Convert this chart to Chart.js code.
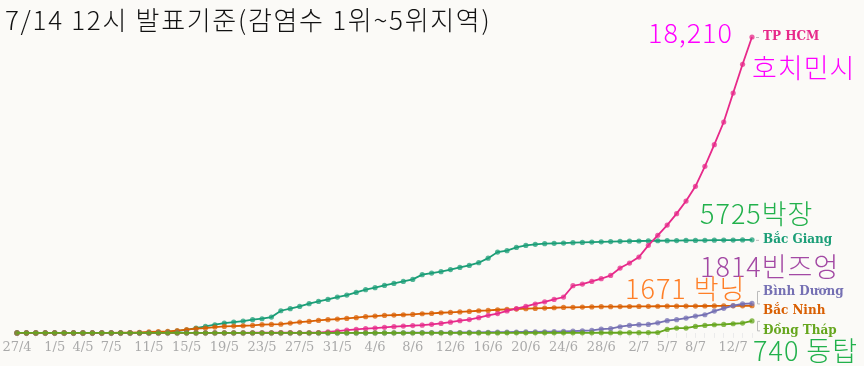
<!DOCTYPE html>
<html>
<head>
<meta charset="utf-8">
<script src="https://cdn.jsdelivr.net/npm/chart.js@4.4.1/dist/chart.umd.min.js"></script>
<style>
  html, body { margin: 0; padding: 0; background: #fbfaf7; }
</style>
</head>
<body>
<canvas id="chart" width="864" height="366"></canvas>
<script>
// daily dates, 27/4 .. 14/7
const dates = [
  '27/4','28/4','29/4','30/4',
  '1/5','2/5','3/5','4/5','5/5','6/5','7/5','8/5','9/5','10/5','11/5','12/5','13/5','14/5','15/5','16/5',
  '17/5','18/5','19/5','20/5','21/5','22/5','23/5','24/5','25/5','26/5','27/5','28/5','29/5','30/5','31/5',
  '1/6','2/6','3/6','4/6','5/6','6/6','7/6','8/6','9/6','10/6','11/6','12/6','13/6','14/6','15/6','16/6',
  '17/6','18/6','19/6','20/6','21/6','22/6','23/6','24/6','25/6','26/6','27/6','28/6','29/6','30/6',
  '1/7','2/7','3/7','4/7','5/7','6/7','7/7','8/7','9/7','10/7','11/7','12/7','13/7','14/7'
];

// dates that get a visible tick label
const shownTicks = ['27/4','1/5','4/5','7/5','11/5','15/5','19/5','23/5','27/5','31/5',
  '4/6','8/6','12/6','16/6','20/6','24/6','28/6','2/7','5/7','8/7','12/7'];

// cumulative cases
const tpHcm = [
  0,0,0,0,0,0,0,0,0,0,0,0,0,0,0,
  1,2,2,3,3,4,5,5,6,7,8,9,10,12,14,
  5,10,20,60,110,170,215,260,300,345,385,420,450,475,530,585,
  660,750,820,940,1080,1190,1350,1500,1640,1780,1910,2062,2206,2904,3006,3170,3334,3540,3989,4300,
  4666,5387,6002,6636,7338,8114,9019,10250,11586,12977,14762,16529,18210
];
const bacGiang = [
  0,0,0,0,0,0,0,0,0,0,0,0,0,0,
  10,30,60,110,180,297,400,503,606,667,729,811,872,975,
  1364,1488,1631,1797,1939,2062,2206,2329,2493,2658,2781,2924,3047,3170,3293,3581,3684,3766,
  3900,4030,4155,4319,4600,4976,5058,5263,5386,5448,5489,5510,5530,5550,5571,5590,5605,5620,5635,5645,
  5655,5662,5670,5675,5682,5688,5694,5700,5705,5710,5715,5720,5725
];
const bacNinh = [
  0,0,0,0,0,0,0,0,0,0,
  5,8,12,30,60,74,92,135,197,259,297,357,400,420,441,462,505,520,540,606,
  667,708,770,811,852,893,934,996,1037,1077,1098,1118,1139,1180,1200,1241,
  1262,1290,1323,1364,1385,1426,1447,1467,1488,1508,1529,1549,1565,1575,1590,1600,1611,1615,1620,1625,
  1632,1636,1640,1644,1647,1650,1653,1656,1659,1662,1665,1668,1671
];
const binhDuong = [
  0,0,0,0,0,0,0,0,0,0,0,0,0,0,0,0,0,0,0,0,
  0,0,0,0,0,0,0,0,0,0,0,0,0,0,0,0,0,0,0,0,
  5,8,10,12,15,18,20,25,30,35,40,45,50,55,60,65,70,80,92,110,
  133,154,230,257,380,462,505,520,620,750,811,914,1037,1118,1344,1510,1680,1790,1814
];
const dongThap = [
  0,0,0,0,0,0,0,0,0,0,0,0,0,0,0,0,0,0,0,0,0,0,0,0,0,
  0,0,0,0,0,0,0,0,0,0,0,0,0,0,0,0,0,0,0,0,0,0,0,0,0,
  1,1,2,2,3,3,4,5,5,6,6,7,8,9,10,12,14,18,
  25,215,297,300,400,462,503,523,564,606,740
];

const seriesNames = ['TP HCM', 'Bắc Giang', 'Bình Dương', 'Bắc Ninh', 'Đồng Tháp'];
const seriesData = [tpHcm, bacGiang, binhDuong, bacNinh, dongThap];
const colors = ['#e7298a', '#1b9e77', '#7570b3', '#d95f02', '#66a61e'];
const drawOrder = [1, 4, 2, 3, 0];

function alpha(hex, a) {
  const n = parseInt(hex.slice(1), 16);
  return 'rgba(' + (n >> 16) + ',' + ((n >> 8) & 255) + ',' + (n & 255) + ',' + a + ')';
}

const background = {
  id: 'background',
  beforeDraw(chart) {
    const ctx = chart.ctx;
    ctx.save();
    ctx.fillStyle = '#fbfaf7';
    ctx.fillRect(0, 0, chart.width, chart.height);
    ctx.restore();
  }
};

// series names at the line ends, plus the added korean notes
const annotations = {
  id: 'annotations',
  afterDraw(chart) {
    const ctx = chart.ctx;
    const xs = chart.scales.x, ys = chart.scales.y;
    const last = dates.length - 1;
    const xEnd = xs.getPixelForValue(last);
    const shift = [0, 0, -12, 5.5, 10];

    ctx.save();
    ctx.font = "bold 12px 'DejaVu Serif', serif";
    ctx.textBaseline = 'middle';
    seriesNames.forEach((name, i) => {
      const yEnd = ys.getPixelForValue(seriesData[i][last]);
      const yLab = yEnd + shift[i];
      ctx.strokeStyle = '#bbb';
      ctx.lineWidth = 1;
      ctx.beginPath();
      if (Math.abs(shift[i]) > 6) {
        ctx.moveTo(xEnd + 8, yEnd + 0.5);
        ctx.lineTo(xEnd + 5.5, yEnd + 0.5);
        ctx.lineTo(xEnd + 5.5, yLab);
        ctx.lineTo(xEnd + 8, yLab);
      } else if (shift[i] === 0) {
        ctx.moveTo(xEnd + 4, yEnd + 0.5);
        ctx.lineTo(xEnd + 7, yEnd + 0.5);
      }
      ctx.stroke();
      ctx.fillStyle = colors[i];
      ctx.fillText(name, xEnd + 11, yLab);
    });

    ctx.textBaseline = 'alphabetic';
    ctx.fillStyle = '#111';
    ctx.font = "300 26px 'Noto Sans CJK KR', sans-serif";
    ctx.letterSpacing = '1.7px';
    ctx.fillText('7/14 12시 발표기준(감염수 1위~5위지역)', 5, 30);

    ctx.font = "300 27px 'Noto Sans CJK KR', sans-serif";
    ctx.letterSpacing = '1px';
    const notes = [
      ['18,210', '#ff00ff', 648, 43],
      ['호치민시', '#ff00ff', 752, 78],
      ['5725박장', '#22b14c', 700, 224],
      ['1814빈즈엉', '#a349a4', 700, 277],
      ['1671 박닝', '#ff7f27', 625, 299],
      ['740 동탑', '#22b14c', 753, 361]
    ];
    notes.forEach(n => {
      ctx.fillStyle = n[1];
      ctx.fillText(n[0], n[2], n[3]);
    });
    ctx.restore();
  }
};

new Chart(document.getElementById('chart'), {
  type: 'line',
  data: {
    labels: dates,
    datasets: seriesNames.map((name, i) => ({
      label: name,
      data: seriesData[i],
      borderColor: colors[i],
      backgroundColor: colors[i],
      borderWidth: 1.8,
      pointRadius: 2.6,
      pointBorderWidth: 0,
      pointBackgroundColor: alpha(colors[i], 0.75),
      tension: 0,
      clip: false,
      order: drawOrder[i]
    }))
  },
  options: {
    responsive: false,
    animation: false,
    layout: { padding: { left: 17, right: 112, top: 37, bottom: 8.5 } },
    plugins: {
      legend: { display: false },
      tooltip: { enabled: false }
    },
    scales: {
      x: {
        offset: false,
        border: { display: false },
        grid: { drawOnChartArea: false, drawTicks: true, tickLength: 5, color: '#ebebeb' },
        ticks: {
          autoSkip: false,
          maxRotation: 0,
          minRotation: 0,
          padding: 2,
          color: '#aaa',
          font: { family: "'DejaVu Serif', serif", size: 13 },
          callback: (v, i) => shownTicks.includes(dates[i]) ? dates[i] : ''
        }
      },
      y: { display: false, min: 0, max: 18210 }
    }
  },
  plugins: [background, annotations]
});
</script>
</body>
</html>
